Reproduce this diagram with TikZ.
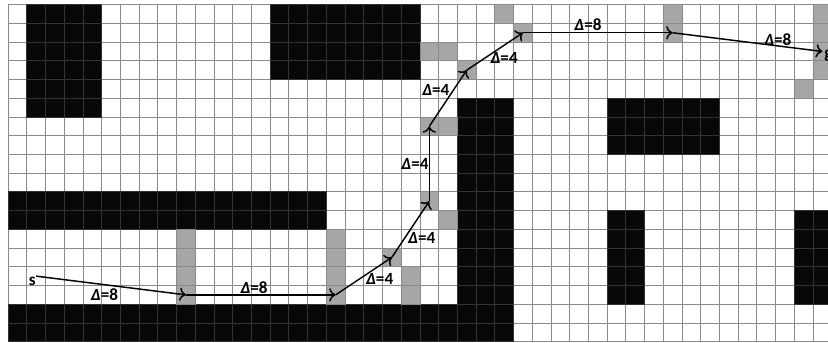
\documentclass[tikz,border=0pt]{standalone}
\usepackage{fontspec}
\setmainfont{Carlito}
\usepackage{tikz}
\usetikzlibrary{arrows.meta}
\definecolor{wall}{RGB}{8,8,8}
\definecolor{wallline}{RGB}{50,50,50}
\definecolor{visited}{RGB}{166,166,166}
\definecolor{gridgray}{RGB}{138,138,138}

\begin{document}
\begin{tikzpicture}[x=0.5cm,y=-0.5cm]
	\useasboundingbox (-0.43,-0.25) rectangle (43.8,18.04);
	\clip (-0.43,-0.25) rectangle (43.8,18.04);
	\begin{scope}[>={To[scale=1.2]}, line join=round, font=\fontsize{13}{13}\selectfont\bfseries]

	\tikzset{wallcell/.style={fill=wall, draw=wallline, line width=0.6pt},
		visitcell/.style={fill=visited, draw=gridgray, line width=0.6pt},
		dlabel/.style={inner sep=1pt},
		move/.style={->, line width=1.1pt}}

% grid
\foreach \x in {0,...,44}
{
	\draw [gridgray, line width=0.6pt] (\x,0) -- (\x,18);
}
\foreach \y in {0,...,18}
{
	\draw [gridgray, line width=0.6pt] (0,\y) -- (44,\y);
}

% walls
\foreach \x in {1,...,4}
\foreach \y in {0,...,5}
{
	\draw [wallcell] (\x,\y) rectangle +(1,1);
}
\foreach \x in {14,...,21}
\foreach \y in {0,...,3}
{
	\draw [wallcell] (\x,\y) rectangle +(1,1);
}
\foreach \x in {32,...,37}
\foreach \y in {5,...,7}
{
	\draw [wallcell] (\x,\y) rectangle +(1,1);
}
\foreach \x in {0,...,16}
\foreach \y in {10,11}
{
	\draw [wallcell] (\x,\y) rectangle +(1,1);
}
\foreach \x in {0,...,26}
\foreach \y in {16,17}
{
	\draw [wallcell] (\x,\y) rectangle +(1,1);
}
\foreach \x in {24,25,26}
\foreach \y in {5,...,15}
{
	\draw [wallcell] (\x,\y) rectangle +(1,1);
}
\foreach \x in {32,33,42,43}
\foreach \y in {11,...,15}
{
	\draw [wallcell] (\x,\y) rectangle +(1,1);
}

% expanded cells
\foreach \x/\y in {9/12,9/13,9/14,9/15,17/12,17/13,17/14,17/15,20/13,21/14,21/15,
	22/10,23/11,22/6,23/6,24/3,22/2,23/2,26/0,27/1,35/0,35/1,43/0,43/1,43/2,43/3,42/4}
{
	\draw [visitcell] (\x,\y) rectangle +(1,1);
}

% path
\coordinate (p0) at (1.5,14.5);
\coordinate (p1) at (9.5,15.5);
\coordinate (p2) at (17.5,15.5);
\coordinate (p3) at (20.5,13.5);
\coordinate (p4) at (22.5,10.5);
\coordinate (p5) at (22.5,6.5);
\coordinate (p6) at (24.5,3.5);
\coordinate (p7) at (27.5,1.5);
\coordinate (p8) at (35.5,1.5);
\coordinate (p9) at (43.5,2.5);

\foreach \a/\b in {p0/p1,p1/p2,p2/p3,p3/p4,p4/p5,p5/p6,p6/p7,p7/p8,p8/p9}
{
	\draw [move] (\a) -- (\b);
}

\node [dlabel] (s) at (1.29,14.76) {s};
\node [dlabel, anchor=base west, inner sep=0.5pt] (g) at (43.55,2.85) {g};

\foreach \n/\x/\y/\v in {d1/5.15/15.47/8, d2/13.14/15.1/8, d3/19.85/14.67/4,
	d4/22.1/12.48/4, d5/21.74/8.51/4, d6/22.85/4.58/4, d7/26.5/2.86/4,
	d8/30.98/1.08/8, d9/41.12/1.85/8}
{
	\node [dlabel] (\n) at (\x,\y) {\textit{Δ}=\v};
}

	\end{scope}
\end{tikzpicture}
\end{document}
